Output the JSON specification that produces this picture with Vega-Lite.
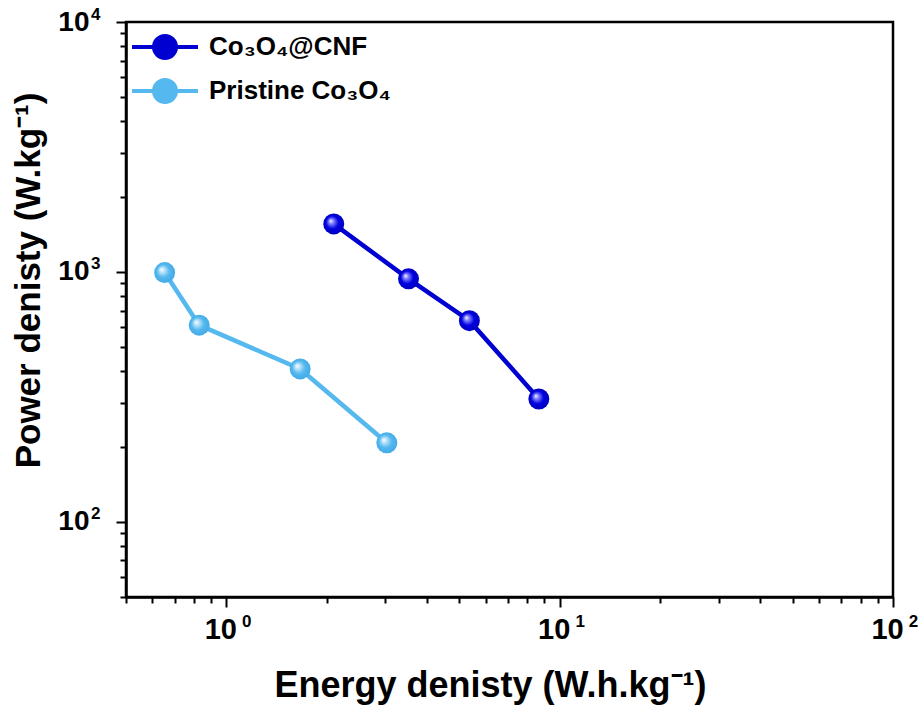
{
  "$schema": "https://vega.github.io/schema/vega-lite/v6.json",
  "width": 767,
  "height": 575,
  "autosize": "none",
  "padding": {"left": 126, "top": 22, "right": 26, "bottom": 122},
  "background": "white",
  "config": {
    "view": {"stroke": "black", "strokeWidth": 2.5},
    "axis": {
      "grid": false,
      "labelFlush": false,
      "domainColor": "black",
      "domainWidth": 2.5,
      "tickColor": "black",
      "tickWidth": 2,
      "tickSize": {"condition": {"test": "indexof([1,10,100,1000,10000], datum.value) >= 0", "value": 10}, "value": 6},
      "labelFont": "Liberation Sans",
      "labelFontWeight": "bold",
      "labelColor": "black",
      "labelOverlap": false,
      "titleFont": "Liberation Sans",
      "titleFontWeight": "bold",
      "titleColor": "black"
    }
  },
  "data": {
    "values": [
      {"series": "Co₃O₄@CNF", "energy": 2.10, "power": 1556},
      {"series": "Co₃O₄@CNF", "energy": 3.52, "power": 938},
      {"series": "Co₃O₄@CNF", "energy": 5.36, "power": 638},
      {"series": "Co₃O₄@CNF", "energy": 8.66, "power": 310},
      {"series": "Pristine Co₃O₄", "energy": 0.653, "power": 994},
      {"series": "Pristine Co₃O₄", "energy": 0.829, "power": 612},
      {"series": "Pristine Co₃O₄", "energy": 1.665, "power": 409},
      {"series": "Pristine Co₃O₄", "energy": 3.03, "power": 207}
    ]
  },
  "resolve": {"axis": {"x": "independent", "y": "independent"}},
  "layer": [
    {
      "mark": {"type": "line", "strokeWidth": 4.5},
      "encoding": {
        "x": {
          "field": "energy", "type": "quantitative",
          "scale": {"type": "log", "domain": [0.5, 100], "nice": false},
          "axis": {
            "orient": "bottom",
            "title": "Energy denisty (W.h.kg⁻¹)",
            "titleFontSize": 36,
            "titleX": 364,
            "values": [0.5,0.6,0.7,0.8,0.9,1,2,3,4,5,6,7,8,9,10,20,30,40,50,60,70,80,90,100],
            "labelExpr": "indexof([1,10,100], datum.value) >= 0 ? '10' : ''",
            "labelFontSize": 29,
            "labelOffset": -6,
            "labelPadding": 8,
            "titlePadding": 24
          }
        },
        "y": {
          "field": "power", "type": "quantitative",
          "scale": {"type": "log", "domain": [50, 10000], "nice": false},
          "axis": {
            "orient": "left",
            "title": "Power denisty (W.kg⁻¹)",
            "titleFontSize": 35,
            "titleY": 258,
            "values": [50,60,70,80,90,100,200,300,400,500,600,700,800,900,1000,2000,3000,4000,5000,6000,7000,8000,9000,10000],
            "labelExpr": "indexof([100,1000,10000], datum.value) >= 0 ? '10' : ''",
            "labelFontSize": 28,
            "labelPadding": 27,
            "titlePadding": 11
          }
        },
        "color": {
          "field": "series", "type": "nominal",
          "scale": {"domain": ["Co₃O₄@CNF", "Pristine Co₃O₄"], "range": ["#0000D0", "#55B8EE"]},
          "legend": {
            "orient": "none",
            "legendX": 17,
            "legendY": 3,
            "title": null,
            "padding": 0,
            "symbolType": "M-1.65,0L1.65,0M0.55,0A0.55,0.55 0 1,1 -0.55,0A0.55,0.55 0 1,1 0.55,0Z",
            "symbolSize": 1600,
            "symbolStrokeWidth": 4,
            "labelFont": "Liberation Sans",
            "labelFontWeight": "bold",
            "labelFontSize": 26,
            "labelColor": "black",
            "labelLimit": 500,
            "labelOffset": 22,
            "rowPadding": 3,
            "encode": {"symbols": {"update": {"fill": {"scale": "color", "field": "value"}, "opacity": {"value": 1}}}}
          }
        }
      }
    },
    {
      "transform": [{"filter": "datum.series == 'Co₃O₄@CNF'"}],
      "mark": {
        "type": "point", "filled": true, "size": 440, "opacity": 1,
        "fill": {"gradient": "radial", "x1": 0.35, "y1": 0.35, "r1": 0, "x2": 0.5, "y2": 0.5, "r2": 0.55,
          "stops": [{"offset": 0, "color": "#ffffff"}, {"offset": 0.2, "color": "#8888ff"}, {"offset": 0.55, "color": "#0000e0"}, {"offset": 1, "color": "#0000b8"}]}
      },
      "encoding": {
        "x": {
          "field": "energy", "type": "quantitative",
          "scale": {"type": "log", "domain": [0.5, 100], "nice": false},
          "axis": {
            "orient": "bottom",
            "title": null,
            "domain": false,
            "tickOpacity": 0,
            "values": [1, 10, 100],
            "labelExpr": "datum.value == 1 ? '0' : datum.value == 10 ? '1' : '2'",
            "labelFontSize": 17,
            "labelOffset": 20,
            "labelPadding": 6
          }
        },
        "y": {
          "field": "power", "type": "quantitative",
          "scale": {"type": "log", "domain": [50, 10000], "nice": false},
          "axis": {
            "orient": "left",
            "title": null,
            "domain": false,
            "tickOpacity": 0,
            "values": [100, 1000, 10000],
            "labelExpr": "datum.value == 100 ? '2' : datum.value == 1000 ? '3' : '4'",
            "labelFontSize": 17,
            "labelOffset": -8,
            "labelPadding": 16
          }
        }
      }
    },
    {
      "transform": [{"filter": "datum.series == 'Pristine Co₃O₄'"}],
      "mark": {
        "type": "point", "filled": true, "size": 440, "opacity": 1,
        "fill": {"gradient": "radial", "x1": 0.35, "y1": 0.35, "r1": 0, "x2": 0.5, "y2": 0.5, "r2": 0.55,
          "stops": [{"offset": 0, "color": "#ffffff"}, {"offset": 0.2, "color": "#bfe6fb"}, {"offset": 0.55, "color": "#55b8ee"}, {"offset": 1, "color": "#3fa8e6"}]}
      },
      "encoding": {
        "x": {"field": "energy", "type": "quantitative", "scale": {"type": "log", "domain": [0.5, 100], "nice": false}, "axis": null},
        "y": {"field": "power", "type": "quantitative", "scale": {"type": "log", "domain": [50, 10000], "nice": false}, "axis": null}
      }
    }
  ]
}
